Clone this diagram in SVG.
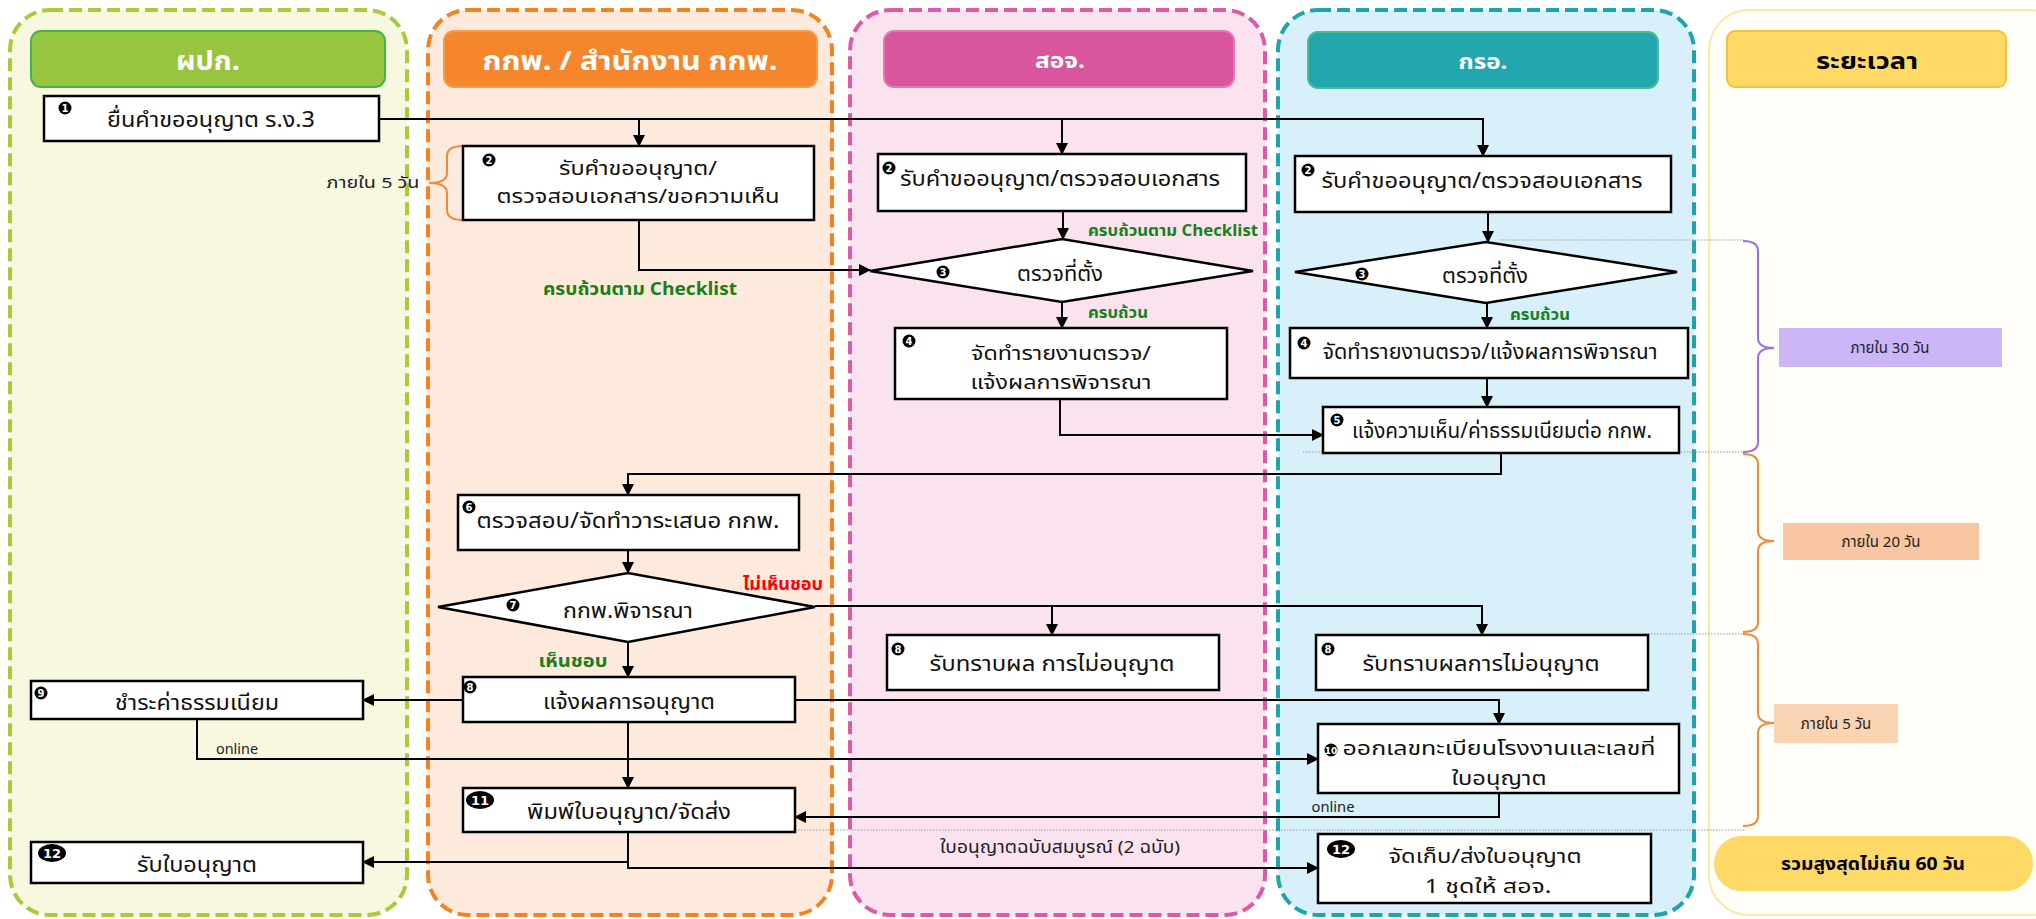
<svg xmlns="http://www.w3.org/2000/svg" width="2036" height="919" viewBox="0 0 2036 919">
<style>
text{font-family:Tahoma,"Noto Sans Thai","Noto Sans","DejaVu Sans",sans-serif}
.t{font-size:22px;fill:#111;text-anchor:middle}
.t2{font-size:19px;fill:#111;text-anchor:middle}
.hd{font-size:27px;font-weight:bold;fill:#fff;text-anchor:middle}
.box{fill:#fff;stroke:#000;stroke-width:2.5}
.c{fill:none;stroke:#000;stroke-width:2;marker-end:url(#ah)}
.dot{fill:none;stroke:#999;stroke-width:1;stroke-dasharray:1.5 1.5}
.g{font-weight:bold;fill:#17801a;text-anchor:middle}
.s{font-size:15px;fill:#222;text-anchor:middle}
.bn{font-family:"DejaVu Sans",sans-serif;font-size:10px;font-weight:bold;fill:#fff;text-anchor:middle}
.bn2{font-family:"DejaVu Sans",sans-serif;font-size:13px;font-weight:bold;fill:#fff;text-anchor:middle}
.lane{stroke-width:4;stroke-dasharray:13 6}
</style>
<defs>
<marker id="ah" markerWidth="12" markerHeight="12" refX="11" refY="6" orient="auto" markerUnits="userSpaceOnUse"><path d="M0,0 L12,6 L0,12 z" fill="#000"/></marker>
</defs>
<rect width="2036" height="919" fill="#fff"/>

<g id="lanes">
<rect class="lane" x="10" y="10" width="397" height="905" rx="40" fill="#f8f8e0" stroke="#a8cb3a"/>
<rect x="31" y="31" width="354" height="56" rx="10" fill="#98c53f" stroke="#3db54a" stroke-width="2"/>
<text class="hd" x="208" y="70" textLength="64" lengthAdjust="spacingAndGlyphs">ผปก.</text>
<rect class="lane" x="428" y="10" width="404" height="905" rx="40" fill="#fdeadd" stroke="#f58220"/>
<rect x="444" y="31" width="373" height="56" rx="10" fill="#f5862b" stroke="#f79a4a" stroke-width="2"/>
<text class="hd" x="630" y="70" textLength="295" lengthAdjust="spacingAndGlyphs">กกพ. / สำนักงาน กกพ.</text>
<rect class="lane" x="850" y="10" width="415" height="905" rx="40" fill="#fae3ef" stroke="#de58a4"/>
<rect x="884" y="31" width="350" height="56" rx="10" fill="#d9559e" stroke="#e27ab4" stroke-width="2"/>
<text class="hd" x="1060" y="68" style="font-size:21px" textLength="50" lengthAdjust="spacingAndGlyphs">สอจ.</text>
<rect class="lane" x="1278" y="10" width="416" height="905" rx="40" fill="#d8f0fa" stroke="#1ea5a9"/>
<rect x="1308" y="32" width="350" height="56" rx="10" fill="#22a6ad" stroke="#4dbb95" stroke-width="2"/>
<text class="hd" x="1483" y="69" style="font-size:21px" textLength="49" lengthAdjust="spacingAndGlyphs">กรอ.</text>
<rect x="1709" y="10" width="360" height="905" rx="40" fill="#fffef8" stroke="#fde8a6" stroke-width="2"/>
<rect x="1727" y="31" width="279" height="56" rx="8" fill="#ffd966" stroke="#f2c23a" stroke-width="2"/>
<text class="hd" x="1867" y="69" style="fill:#000;font-size:23px" textLength="102" lengthAdjust="spacingAndGlyphs">ระยะเวลา</text>
</g>

<g id="timing">
<path class="dot" d="M1500,240 H1745"/>
<path class="dot" d="M1303,452 H1745"/>
<path class="dot" d="M1642,634 H1745"/>
<path class="dot" d="M795,830 H1745"/>
<path d="M463,146 Q447,146 447,156 V173 Q447,183 429,183 Q447,183 447,193 V210 Q447,220 463,220" fill="none" stroke="#f08a3a" stroke-width="2"/>
<text class="s" x="373" y="188" textLength="93" lengthAdjust="spacingAndGlyphs">ภายใน 5 วัน</text>
<path d="M1743,241 Q1758,241 1758,251 V338 Q1758,348 1774,348 Q1758,348 1758,358 V442 Q1758,452 1743,452" fill="none" stroke="#9a6cf0" stroke-width="2"/>
<rect x="1779" y="328" width="223" height="39" fill="#cbb6f7"/>
<text class="s" x="1890" y="353">ภายใน 30 วัน</text>
<path d="M1743,454 Q1758,454 1758,464 V531 Q1758,541 1774,541 Q1758,541 1758,551 V622 Q1758,632 1743,632" fill="none" stroke="#f08a3a" stroke-width="2"/>
<rect x="1783" y="523" width="196" height="37" fill="#f8c6a2"/>
<text class="s" x="1881" y="547">ภายใน 20 วัน</text>
<path d="M1743,634 Q1758,634 1758,644 V713 Q1758,723 1774,723 Q1758,723 1758,733 V816 Q1758,826 1743,826" fill="none" stroke="#f08a3a" stroke-width="2"/>
<rect x="1774" y="704" width="124" height="39" fill="#fbd4b3"/>
<text class="s" x="1836" y="729">ภายใน 5 วัน</text>
<rect x="1714" y="836" width="319" height="55" rx="27" fill="#ffd966"/>
<text class="g" x="1873" y="870" style="fill:#000;font-size:18px" textLength="184" lengthAdjust="spacingAndGlyphs">รวมสูงสุดไม่เกิน 60 วัน</text>
</g>

<g id="connectors">
<path class="c" d="M379,119 H1483 V156"/>
<path class="c" d="M639,119 V146"/>
<path class="c" d="M1062,119 V154"/>
<path class="c" d="M639,220 V270 H870"/>
<path class="c" d="M1063,211 V239"/>
<path class="c" d="M1062,302 V328"/>
<path class="c" d="M1060,399 V435 H1323"/>
<path class="c" d="M1488,212 V242"/>
<path class="c" d="M1487,303 V328"/>
<path class="c" d="M1487,378 V407"/>
<path class="c" d="M1501,453 V474 H628 V495"/>
<path class="c" d="M628,550 V573"/>
<path class="c" d="M815,606 H1482 V635"/>
<path class="c" d="M1052,606 V635"/>
<path class="c" d="M628,642 V677"/>
<path class="c" d="M463,700 H363"/>
<path class="c" d="M795,700 H1499 V724"/>
<path class="c" d="M628,722 V788"/>
<path class="c" d="M197,719 V759 H1318"/>
<path class="c" d="M1499,793 V817 H795"/>
<path class="c" d="M628,832 V862 H363"/>
<path class="c" d="M628,862 V868 H1318"/>
<text class="g" x="640" y="295" style="font-size:18px" textLength="194" lengthAdjust="spacingAndGlyphs">ครบถ้วนตาม Checklist</text>
<text class="g" x="1173" y="236" style="font-size:16px" textLength="170" lengthAdjust="spacingAndGlyphs">ครบถ้วนตาม Checklist</text>
<text class="g" x="1118" y="318" style="font-size:16px" textLength="60" lengthAdjust="spacingAndGlyphs">ครบถ้วน</text>
<text class="g" x="1540" y="320" style="font-size:16px" textLength="60" lengthAdjust="spacingAndGlyphs">ครบถ้วน</text>
<text class="g" x="783" y="590" style="font-size:17px;fill:#ff0000" textLength="80" lengthAdjust="spacingAndGlyphs">ไม่เห็นชอบ</text>
<text class="g" x="573" y="667" style="font-size:17px" textLength="69" lengthAdjust="spacingAndGlyphs">เห็นชอบ</text>
<text class="s" x="237" y="754" textLength="42" lengthAdjust="spacingAndGlyphs">online</text>
<text class="s" x="1333" y="812" textLength="43" lengthAdjust="spacingAndGlyphs">online</text>
<text class="s" x="1060" y="853" style="font-size:17px" textLength="240" lengthAdjust="spacingAndGlyphs">ใบอนุญาตฉบับสมบูรณ์ (2 ฉบับ)</text>
</g>

<g id="n1"><rect class="box" x="44" y="96" width="335" height="45"/><circle cx="65" cy="108" r="6.5"/><text class="bn" x="65" y="112">1</text><text class="t" x="211" y="127" textLength="208" lengthAdjust="spacingAndGlyphs">ยื่นคำขออนุญาต ร.ง.3</text></g>
<g id="n9"><rect class="box" x="31" y="681" width="332" height="38"/><circle cx="41" cy="693" r="6.5"/><text class="bn" x="41" y="697">9</text><text class="t" x="197" y="710" textLength="164" lengthAdjust="spacingAndGlyphs">ชำระค่าธรรมเนียม</text></g>
<g id="n12a"><rect class="box" x="31" y="842" width="332" height="41"/><ellipse cx="52" cy="853" rx="14" ry="9"/><text class="bn2" x="52" y="858">12</text><text class="t" x="197" y="872" textLength="120" lengthAdjust="spacingAndGlyphs">รับใบอนุญาต</text></g>

<g id="n2a"><rect class="box" x="463" y="146" width="351" height="74"/><circle cx="489" cy="160" r="6.5"/><text class="bn" x="489" y="164">2</text><text class="t2" x="638" y="175" textLength="158" lengthAdjust="spacingAndGlyphs">รับคำขออนุญาต/</text><text class="t2" x="638" y="203" textLength="283" lengthAdjust="spacingAndGlyphs">ตรวจสอบเอกสาร/ขอความเห็น</text></g>
<g id="n6"><rect class="box" x="458" y="495" width="341" height="55"/><circle cx="469" cy="507" r="6.5"/><text class="bn" x="469" y="511">6</text><text class="t" x="628" y="528" textLength="303" lengthAdjust="spacingAndGlyphs">ตรวจสอบ/จัดทำวาระเสนอ กกพ.</text></g>
<g id="n7"><polygon class="box" points="438,607 628,573 815,607 628,642"/><circle cx="513" cy="605" r="6.5"/><text class="bn" x="513" y="609">7</text><text class="t" x="628" y="618" textLength="130" lengthAdjust="spacingAndGlyphs">กกพ.พิจารณา</text></g>
<g id="n8a"><rect class="box" x="463" y="677" width="332" height="45"/><circle cx="470" cy="687" r="6.5"/><text class="bn" x="470" y="691">8</text><text class="t" x="629" y="709" textLength="172" lengthAdjust="spacingAndGlyphs">แจ้งผลการอนุญาต</text></g>
<g id="n11"><rect class="box" x="463" y="788" width="332" height="44"/><ellipse cx="480" cy="800" rx="14" ry="9"/><text class="bn2" x="480" y="805">11</text><text class="t" x="629" y="819" textLength="204" lengthAdjust="spacingAndGlyphs">พิมพ์ใบอนุญาต/จัดส่ง</text></g>

<g id="n2b"><rect class="box" x="878" y="154" width="368" height="57"/><circle cx="889" cy="168" r="6.5"/><text class="bn" x="889" y="172">2</text><text class="t" x="1060" y="186" textLength="320" lengthAdjust="spacingAndGlyphs">รับคำขออนุญาต/ตรวจสอบเอกสาร</text></g>
<g id="n3b"><polygon class="box" points="870,271 1062,239 1253,271 1062,302"/><circle cx="943" cy="272" r="6.5"/><text class="bn" x="943" y="276">3</text><text class="t" x="1060" y="281" textLength="86" lengthAdjust="spacingAndGlyphs">ตรวจที่ตั้ง</text></g>
<g id="n4b"><rect class="box" x="895" y="328" width="332" height="71"/><circle cx="909" cy="341" r="6.5"/><text class="bn" x="909" y="345">4</text><text class="t2" x="1061" y="360" textLength="180" lengthAdjust="spacingAndGlyphs">จัดทำรายงานตรวจ/</text><text class="t2" x="1061" y="389" textLength="181" lengthAdjust="spacingAndGlyphs">แจ้งผลการพิจารณา</text></g>
<g id="n8b"><rect class="box" x="887" y="635" width="332" height="55"/><circle cx="898" cy="649" r="6.5"/><text class="bn" x="898" y="653">8</text><text class="t" x="1052" y="671" textLength="245" lengthAdjust="spacingAndGlyphs">รับทราบผล การไม่อนุญาต</text></g>

<g id="n2c"><rect class="box" x="1295" y="156" width="376" height="56"/><circle cx="1308" cy="170" r="6.5"/><text class="bn" x="1308" y="174">2</text><text class="t" x="1482" y="188" textLength="321" lengthAdjust="spacingAndGlyphs">รับคำขออนุญาต/ตรวจสอบเอกสาร</text></g>
<g id="n3c"><polygon class="box" points="1295,272 1486,242 1677,272 1486,303"/><circle cx="1362" cy="274" r="6.5"/><text class="bn" x="1362" y="278">3</text><text class="t" x="1485" y="283" textLength="86" lengthAdjust="spacingAndGlyphs">ตรวจที่ตั้ง</text></g>
<g id="n4c"><rect class="box" x="1290" y="328" width="398" height="50"/><circle cx="1304" cy="343" r="6.5"/><text class="bn" x="1304" y="347">4</text><text class="t" x="1490" y="359" textLength="335" lengthAdjust="spacingAndGlyphs">จัดทำรายงานตรวจ/แจ้งผลการพิจารณา</text></g>
<g id="n5"><rect class="box" x="1323" y="407" width="356" height="46"/><circle cx="1337" cy="420" r="6.5"/><text class="bn" x="1337" y="424">5</text><text class="t" x="1502" y="438" textLength="300" lengthAdjust="spacingAndGlyphs">แจ้งความเห็น/ค่าธรรมเนียมต่อ กกพ.</text></g>
<g id="n8c"><rect class="box" x="1316" y="635" width="332" height="55"/><circle cx="1328" cy="649" r="6.5"/><text class="bn" x="1328" y="653">8</text><text class="t" x="1481" y="671" textLength="237" lengthAdjust="spacingAndGlyphs">รับทราบผลการไม่อนุญาต</text></g>
<g id="n10"><rect class="box" x="1318" y="724" width="361" height="69"/><circle cx="1331" cy="750" r="6.5"/><text class="bn2" x="1331" y="754" style="font-size:9px">10</text><text class="t2" x="1499" y="755" textLength="313" lengthAdjust="spacingAndGlyphs">ออกเลขทะเบียนโรงงานและเลขที่</text><text class="t2" x="1499" y="785" textLength="95" lengthAdjust="spacingAndGlyphs">ใบอนุญาต</text></g>
<g id="n12c"><rect class="box" x="1318" y="834" width="333" height="69"/><ellipse cx="1341" cy="849" rx="14" ry="9"/><text class="bn2" x="1341" y="854">12</text><text class="t2" x="1485" y="863" textLength="193" lengthAdjust="spacingAndGlyphs">จัดเก็บ/ส่งใบอนุญาต</text><text class="t2" x="1488" y="893" textLength="127" lengthAdjust="spacingAndGlyphs">1 ชุดให้ สอจ.</text></g>
</svg>
